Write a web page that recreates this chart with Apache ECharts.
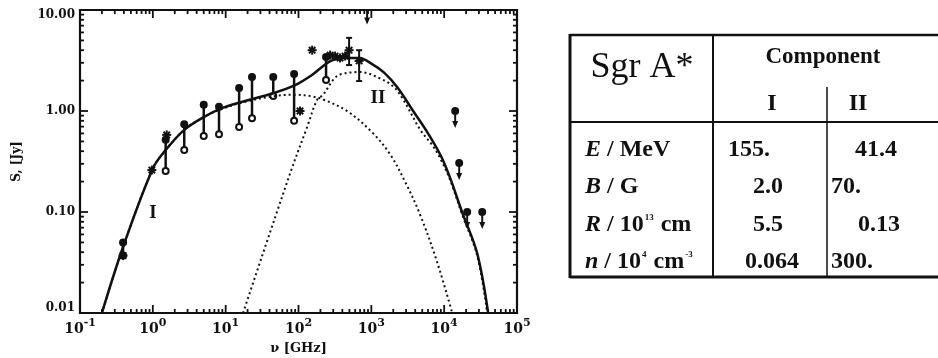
<!DOCTYPE html>
<html>
<head>
<meta charset="utf-8">
<script src="https://cdn.jsdelivr.net/npm/echarts@6/dist/echarts.min.js"></script>
<style>
  html, body { margin: 0; padding: 0; background: #fff; }
  #chart { width: 938px; height: 358px; }
</style>
</head>
<body>
<div id="chart"></div>
<script>
// spectrum of Sgr A*, frequency in GHz, flux in Jy
var totalCurve = [[0.2, 0.01], [0.39, 0.045], [1.0, 0.27], [1.5, 0.41], [2.7, 0.65], [5, 0.87], [8.4, 1.05],
  [16, 1.22], [45, 1.5], [90, 1.8], [150, 2.25], [200, 2.65], [270, 3.1], [400, 3.35], [680, 3.35],
  [1000, 2.95], [1500, 2.4], [2300, 1.7], [3750, 1.0], [6000, 0.6], [9000, 0.36], [12000, 0.22],
  [17600, 0.1], [28400, 0.039], [40200, 0.01]];
var compICurve = [[0.2, 0.01], [0.39, 0.045], [1.0, 0.27], [1.5, 0.41], [2.7, 0.65], [5, 0.87], [8.4, 1.03],
  [16, 1.2], [45, 1.4], [90, 1.45], [150, 1.4], [218, 1.3], [465, 1.0], [1060, 0.6], [1820, 0.37],
  [2900, 0.2], [4700, 0.093], [8000, 0.032], [12900, 0.01]];
var compIICurve = [[17.3, 0.01], [77, 0.243], [131, 0.69], [180, 1.29], [218, 1.45], [299, 2.03], [372, 2.3],
  [700, 2.43], [1320, 2.1], [2000, 1.75], [2735, 1.3], [4700, 0.65], [7000, 0.45], [9000, 0.33],
  [12000, 0.21], [17600, 0.095], [28400, 0.037], [39000, 0.01]];

// variability ranges (filled circle = high, open circle = low)
var rangeFreq = [0.39, 1.5, 2.7, 5.0, 8.1, 15.3, 23, 45, 87, 239];
var rangeLow  = [0.037, 0.255, 0.41, 0.565, 0.59, 0.695, 0.85, 1.41, 0.80, 2.03];
var rangeHigh = [0.05, 0.52, 0.74, 1.15, 1.10, 1.69, 2.17, 2.17, 2.32, 3.43];

// single measurements (asterisks)
var starFreq = [0.39, 0.97, 1.55, 105, 154, 272, 318, 372, 436, 495, 680];
var starFlux = [0.037, 0.26, 0.58, 1.0, 4.0, 3.58, 3.5, 3.35, 3.5, 4.0, 3.13];

// error bars
var errFreq = [495, 680];
var errLow  = [2.85, 1.98];
var errHigh = [5.3, 4.0];

// upper limits
var limitFreq = [875, 14160, 16070, 20700, 33300];
var limitFlux = [10.6, 1.0, 0.305, 0.10, 0.10];

// component labels
var compNames = ['I', 'II'];
var compPos = [[1.0, 0.098], [1230, 1.35]];

// table
var tableTitle = 'Sgr A*';
var tableHead = 'Component';
var rowLabels = ['{i|E} / MeV', '{i|B} / G', '{i|R} / 10{s|13} cm', '{i|n} / 10{s|4} cm{s|-3}'];
var compI  = ['155.', '2.0', '5.5', '0.064'];
var compII = ['41.4', '70.', '0.13', '300.'];

var xMajor = [0.1, 1, 10, 100, 1000, 10000, 100000];
var yMajor = [0.01, 0.1, 1, 10];

var xTicks = [], yTicks = [];
xMajor.forEach(function (v, i) {
  xTicks.push([v, 1]);
  if (i < xMajor.length - 1) for (var m = 2; m <= 9; m++) xTicks.push([v * m, 0]);
});
yMajor.forEach(function (v, i) {
  yTicks.push([v, 1]);
  if (i < yMajor.length - 1) for (var m = 2; m <= 9; m++) yTicks.push([v * m, 0]);
});

var ink = '#111';
var serif = '"Liberation Serif", "DejaVu Serif", serif';

function renderXTick(params, api) {
  var cs = params.coordSys;
  var px = api.coord([api.value(0), 1])[0];
  var len = api.value(1) ? 8 : 4;
  var st = { stroke: ink, lineWidth: 1.8 };
  return { type: 'group', children: [
    { type: 'line', shape: { x1: px, y1: cs.y + cs.height, x2: px, y2: cs.y + cs.height - len }, style: st },
    { type: 'line', shape: { x1: px, y1: cs.y, x2: px, y2: cs.y + len }, style: st }
  ] };
}
function renderYTick(params, api) {
  var cs = params.coordSys;
  var py = api.coord([1, api.value(0)])[1];
  var len = api.value(1) ? 8 : 4;
  var st = { stroke: ink, lineWidth: 1.8 };
  return { type: 'group', children: [
    { type: 'line', shape: { x1: cs.x, y1: py, x2: cs.x + len, y2: py }, style: st },
    { type: 'line', shape: { x1: cs.x + cs.width, y1: py, x2: cs.x + cs.width - len, y2: py }, style: st }
  ] };
}
function renderRange(params, api) {
  var lo = api.coord([api.value(0), api.value(1)]);
  var hi = api.coord([api.value(0), api.value(2)]);
  return { type: 'group', children: [
    { type: 'line', shape: { x1: lo[0], y1: lo[1], x2: hi[0], y2: hi[1] }, style: { stroke: ink, lineWidth: 2.5 } },
    { type: 'circle', shape: { cx: hi[0], cy: hi[1], r: 4 }, style: { fill: ink } },
    { type: 'circle', shape: { cx: lo[0], cy: lo[1], r: 3 }, style: { fill: '#fff', stroke: ink, lineWidth: 2 } }
  ] };
}
function renderStar(params, api) {
  var p = api.coord([api.value(0), api.value(1)]);
  var r = 4.5, d = 3.2, st = { stroke: ink, lineWidth: 2 };
  return { type: 'group', children: [
    { type: 'line', shape: { x1: p[0] - r, y1: p[1], x2: p[0] + r, y2: p[1] }, style: st },
    { type: 'line', shape: { x1: p[0], y1: p[1] - r, x2: p[0], y2: p[1] + r }, style: st },
    { type: 'line', shape: { x1: p[0] - d, y1: p[1] - d, x2: p[0] + d, y2: p[1] + d }, style: st },
    { type: 'line', shape: { x1: p[0] - d, y1: p[1] + d, x2: p[0] + d, y2: p[1] - d }, style: st }
  ] };
}
function renderErr(params, api) {
  var lo = api.coord([api.value(0), api.value(1)]);
  var hi = api.coord([api.value(0), api.value(2)]);
  var st = { stroke: ink, lineWidth: 2 };
  return { type: 'group', children: [
    { type: 'line', shape: { x1: lo[0], y1: lo[1], x2: hi[0], y2: hi[1] }, style: st },
    { type: 'line', shape: { x1: lo[0] - 3, y1: lo[1], x2: lo[0] + 3, y2: lo[1] }, style: st },
    { type: 'line', shape: { x1: hi[0] - 3, y1: hi[1], x2: hi[0] + 3, y2: hi[1] }, style: st }
  ] };
}
function renderLimit(params, api) {
  var p = api.coord([api.value(0), api.value(1)]);
  return { type: 'group', children: [
    { type: 'circle', shape: { cx: p[0], cy: p[1], r: 4 }, style: { fill: ink } },
    { type: 'line', shape: { x1: p[0], y1: p[1], x2: p[0], y2: p[1] + 11 }, style: { stroke: ink, lineWidth: 2 } },
    { type: 'polygon', shape: { points: [[p[0] - 3, p[1] + 10], [p[0] + 3, p[1] + 10], [p[0], p[1] + 17]] }, style: { fill: ink } }
  ] };
}
function renderName(params, api) {
  var p = api.coord([api.value(0), api.value(1)]);
  return { type: 'text', x: p[0], y: p[1], style: { text: compNames[params.dataIndex], fill: ink,
    font: 'bold 19px ' + serif, align: 'center', verticalAlign: 'middle' } };
}

var chart = echarts.init(document.getElementById('chart'), null, { renderer: 'canvas' });

// table drawn as graphic elements
var rowY = [150, 187, 225, 262];
var colIx = [728, 753, 753, 745];
var colIIx = [855, 831, 858, 831];
var txt = function (x, y, text, font, align, rich) {
  return { type: 'text', x: x, y: y, style: { text: text, font: font, fill: ink, align: align || 'left',
    verticalAlign: 'middle', rich: rich } };
};
var ln = function (x1, y1, x2, y2, w) {
  return { type: 'line', shape: { x1: x1, y1: y1, x2: x2, y2: y2 }, style: { stroke: ink, lineWidth: w } };
};
var rowRich = {
  i: { font: 'italic bold 24px ' + serif, fill: ink },
  s: { font: 'bold 9px ' + serif, fill: ink, padding: [0, 1, 14, 1] }
};
var table = [
  ln(570, 35, 938, 35, 2.5), ln(570, 277, 938, 277, 3), ln(570, 122, 938, 122, 2),
  ln(570, 34, 570, 278, 3), ln(713, 35, 713, 277, 2), ln(827, 87, 827, 277, 1.5),
  txt(642, 68, tableTitle, '36px ' + serif, 'center'),
  txt(823, 57, tableHead, 'bold 23px ' + serif, 'center'),
  txt(772, 104, 'I', 'bold 24px ' + serif, 'center'),
  txt(858, 104, 'II', 'bold 24px ' + serif, 'center')
];
rowLabels.forEach(function (t, i) {
  table.push(txt(585, rowY[i], t, 'bold 24px ' + serif, 'left', rowRich));
  table.push(txt(colIx[i], rowY[i], compI[i], 'bold 24px ' + serif));
  table.push(txt(colIIx[i], rowY[i], compII[i], 'bold 24px ' + serif));
});

var labelFont = { fontFamily: 'DejaVu Serif', fontWeight: 'bold', fontSize: 12, color: ink };

var option = {
  backgroundColor: '#fff',
  animation: false,
  grid: { left: 80, top: 10, right: 421, bottom: 45, show: true, borderColor: ink, borderWidth: 2.2,
    backgroundColor: 'transparent', outerBoundsMode: 'none', containLabel: false },
  xAxis: {
    type: 'log', logBase: 10, min: 0.1, max: 100000,
    name: 'ν [GHz]', nameLocation: 'middle', nameGap: 29,
    nameTextStyle: { fontFamily: 'DejaVu Serif', fontWeight: 'bold', fontSize: 13, color: ink },
    axisLine: { show: false }, axisTick: { show: false }, splitLine: { show: false },
    axisLabel: {
      margin: 5,
      formatter: function (v) { return '{b|10}{s|' + Math.round(Math.log10(v)) + '}'; },
      rich: {
        b: { fontFamily: 'DejaVu Serif', fontWeight: 'bold', fontSize: 14, color: ink },
        s: { fontFamily: 'DejaVu Serif', fontWeight: 'bold', fontSize: 11, color: ink, padding: [0, 0, 11, 0] }
      }
    }
  },
  yAxis: {
    type: 'log', logBase: 10, min: 0.01, max: 10,
    name: 'S, [Jy]', nameLocation: 'middle', nameGap: 57, nameRotate: 90,
    nameTextStyle: labelFont,
    axisLine: { show: false }, axisTick: { show: false }, splitLine: { show: false },
    axisLabel: {
      margin: 5,
      formatter: function (v) {
        var s = v.toFixed(2);
        if (v > 5) return '{top|' + s + '}';
        if (v < 0.02) return '{bot|' + s + '}';
        return '{n|' + s + '}';
      },
      rich: {
        n: labelFont,
        top: Object.assign({ padding: [10, 0, 0, 0] }, labelFont),
        bot: Object.assign({ padding: [0, 0, 10, 0] }, labelFont)
      }
    }
  },
  graphic: table,
  series: [
    { type: 'line', data: compICurve, smooth: 0.35, symbol: 'none', clip: true,
      lineStyle: { color: ink, width: 2, type: [2, 3] } },
    { type: 'line', data: compIICurve, smooth: 0.35, symbol: 'none', clip: true,
      lineStyle: { color: ink, width: 2, type: [2, 3] } },
    { type: 'line', data: totalCurve, smooth: 0.35, symbol: 'none', clip: true,
      lineStyle: { color: ink, width: 2.5 } },
    { type: 'custom', renderItem: renderXTick, data: xTicks, encode: { x: 0 }, silent: true },
    { type: 'custom', renderItem: renderYTick, data: yTicks, encode: { y: 0 }, silent: true },
    { type: 'custom', renderItem: renderRange, encode: { x: 0, y: [1, 2] },
      data: rangeFreq.map(function (f, i) { return [f, rangeLow[i], rangeHigh[i]]; }) },
    { type: 'custom', renderItem: renderErr, encode: { x: 0, y: [1, 2] },
      data: errFreq.map(function (f, i) { return [f, errLow[i], errHigh[i]]; }) },
    { type: 'custom', renderItem: renderStar, encode: { x: 0, y: 1 },
      data: starFreq.map(function (f, i) { return [f, starFlux[i]]; }) },
    { type: 'custom', renderItem: renderLimit, encode: { x: 0, y: 1 }, clip: true,
      data: limitFreq.map(function (f, i) { return [f, limitFlux[i]]; }) },
    { type: 'custom', renderItem: renderName, encode: { x: 0, y: 1 }, data: compPos }
  ]
};
chart.setOption(option);
</script>
</body>
</html>
